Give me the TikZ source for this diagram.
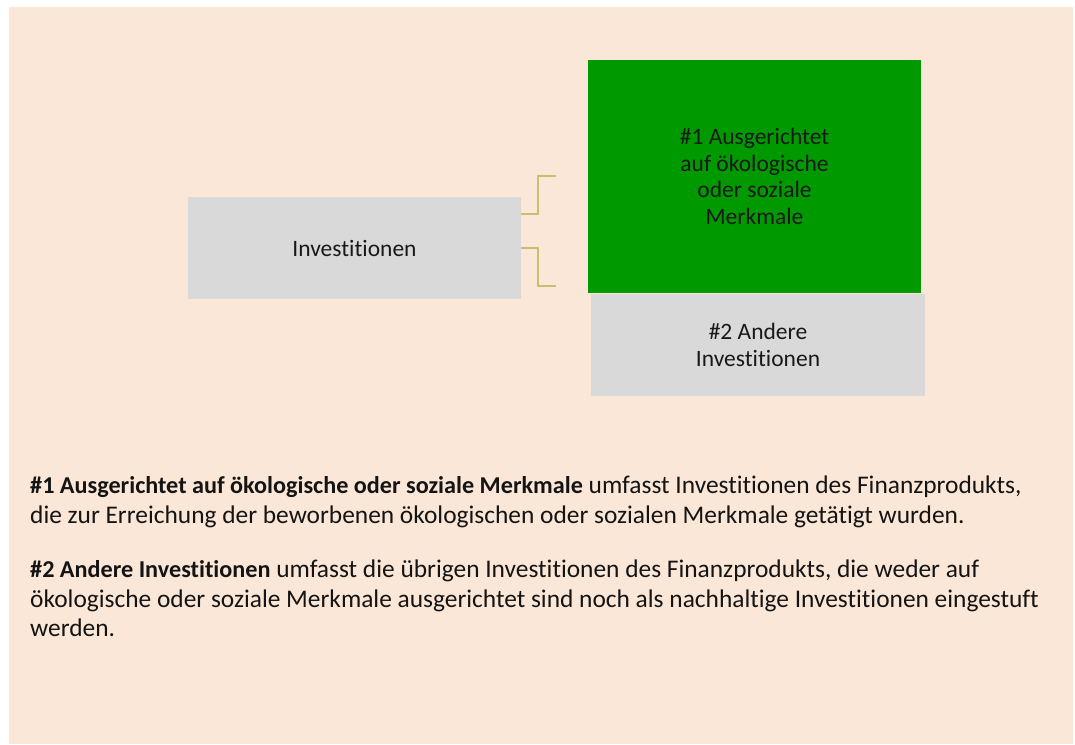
\documentclass[tikz,border=0pt]{standalone}
\usepackage{fontspec}
\setmainfont[Ligatures=NoCommon]{Carlito}
\definecolor{peach}{HTML}{FBE7D7}
\definecolor{boxgrey}{HTML}{D9D9D9}
\definecolor{boxgreen}{HTML}{009900}
\definecolor{conncol}{HTML}{C9BF6E}
\newcommand\leadbold[1]{{\fontsize{24.2}{30}\selectfont\bfseries #1}}
\begin{document}
\begin{tikzpicture}[x=1pt,y=-1pt,
  boxtext/.style={font=\fontsize{23.5}{26.6}\selectfont, align=center, inner sep=0pt, text=black!90},
  conn/.style={draw=conncol, line width=1.5pt},
  bodyline/.style={anchor=base west, inner sep=0pt, font=\fontsize{25.4}{30}\selectfont, text=black!92}]
\useasboundingbox (0,0) rectangle (1075,744);
\fill[white] (0,0) rectangle (1075,744);
\fill[peach] (9,7) rectangle (1073,744);
% boxes
\node[boxtext, fill=boxgrey, minimum width=333pt, minimum height=102pt] (inv) at (354.5,248) {Investitionen};
\node[boxtext, fill=boxgrey, minimum width=334pt, minimum height=102pt] (other) at (758,345) {\#2 Andere\\Investitionen};
\node[boxtext, fill=boxgreen, minimum width=333pt, minimum height=233pt] (align) at (754.5,176.5) {\#1 Ausgerichtet\\auf ökologische\\oder soziale\\Merkmale};
% connectors
\coordinate (c1) at (556,176);
\coordinate (c2) at (556,286);
\draw[conn] ([yshift=-17pt]inv.north east) -- ++(17,0) |- (c1);
\draw[conn] (inv.east) -- ++(17,0) |- (c2);
% text
\node[bodyline] (p1a) at (30,493) {\leadbold{\#1 Ausgerichtet auf ökologische oder soziale Merkmale} umfasst Investitionen des Finanzprodukts,};
\node[bodyline] (p1b) at (30,523) {die zur Erreichung der beworbenen ökologischen oder sozialen Merkmale getätigt wurden.};
\node[bodyline] (p2a) at (30,577) {\leadbold{\#2 Andere Investitionen} umfasst die übrigen Investitionen des Finanzprodukts, die weder auf};
\node[bodyline] (p2b) at (30,607) {ökologische oder soziale Merkmale ausgerichtet sind noch als nachhaltige Investitionen eingestuft};
\node[bodyline] (p2c) at (30,636) {werden.};
\end{tikzpicture}
\end{document}
